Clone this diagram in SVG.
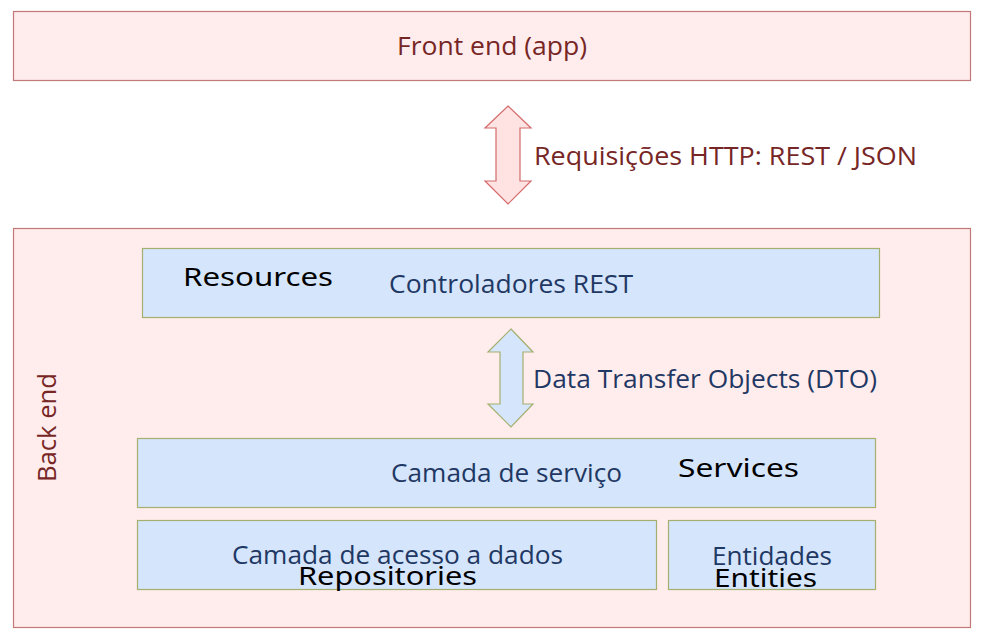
<svg xmlns="http://www.w3.org/2000/svg" width="998" height="638" viewBox="0 0 998 638">
<style>
.bg{fill:#ffffff}
.pink{fill:#ffecec;stroke:#c47878;stroke-width:1.2}
.blue{fill:#d5e5fb;stroke:#a3b06e;stroke-width:1.2}
.red-arrow{fill:#ffe3e3;stroke:#d46a6a;stroke-width:1.2}
.blue-arrow{fill:#d5e5fb;stroke:#a3b06e;stroke-width:1.2}
.cal{font-family:"Open Sans","Noto Sans",sans-serif;font-size:25.5px}
.red{fill:#772626}
.navy{fill:#1f3864}
.blk{font-family:"Noto Sans","DejaVu Sans",sans-serif;font-size:26px;fill:#000000}
</style>
<rect class="bg" x="0" y="0" width="998" height="638"/>
<g id="frontend">
<rect class="pink" x="13.5" y="11.5" width="957" height="69"/>
<text class="cal red" x="397" y="55" textLength="190" lengthAdjust="spacingAndGlyphs">Front end (app)</text>
</g>
<g id="backend">
<rect class="pink" x="13.5" y="228.5" width="957" height="399"/>
<text class="cal red" transform="translate(56,482) rotate(-90)" x="0" y="0" textLength="109" lengthAdjust="spacingAndGlyphs">Back end</text>
</g>
<g id="resources">
<rect class="blue" x="142.5" y="248.5" width="737" height="69"/>
<text class="blk" x="183" y="286" textLength="150" lengthAdjust="spacingAndGlyphs">Resources</text>
<text class="cal navy" x="389" y="293" textLength="244" lengthAdjust="spacingAndGlyphs">Controladores REST</text>
</g>
<g id="services">
<rect class="blue" x="137.5" y="438.5" width="738" height="69"/>
<text class="cal navy" x="391" y="482" textLength="231" lengthAdjust="spacingAndGlyphs">Camada de serviço</text>
<text class="blk" x="678" y="477" textLength="121" lengthAdjust="spacingAndGlyphs">Services</text>
</g>
<g id="repositories">
<rect class="blue" x="137.5" y="520.5" width="519" height="69"/>
<text class="cal navy" x="232" y="564" textLength="331" lengthAdjust="spacingAndGlyphs">Camada de acesso a dados</text>
<text class="blk" x="298" y="585" textLength="179" lengthAdjust="spacingAndGlyphs">Repositories</text>
</g>
<g id="entities">
<rect class="blue" x="668.5" y="520.5" width="207" height="69"/>
<text class="cal navy" x="712" y="565" textLength="120" lengthAdjust="spacingAndGlyphs">Entidades</text>
<text class="blk" x="714" y="587" textLength="103" lengthAdjust="spacingAndGlyphs">Entities</text>
</g>
<g id="connectors">
<polygon class="red-arrow" points="508,106 531,128 520,128 520,181 531,181 508,204 485,181 496,181 496,128 485,128"/>
<text class="cal red" x="534" y="165" textLength="383" lengthAdjust="spacingAndGlyphs">Requisições HTTP: REST / JSON</text>
<polygon class="blue-arrow" points="511,329 533,352 523,352 523,404 533,404 511,427 488,404 500,404 500,352 488,352"/>
<text class="cal navy" x="533" y="388" textLength="344" lengthAdjust="spacingAndGlyphs">Data Transfer Objects (DTO)</text>
</g>
</svg>
